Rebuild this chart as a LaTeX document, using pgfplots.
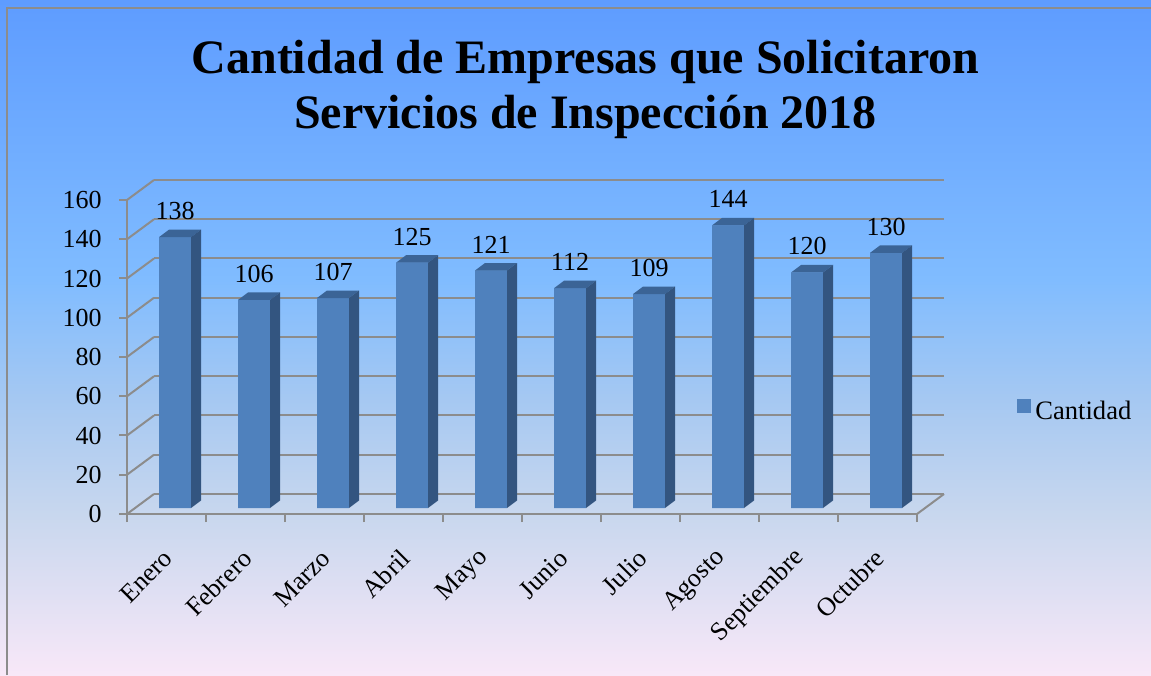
\documentclass[border=0pt]{standalone}
\usepackage{fontspec}
\setmainfont{Liberation Serif}
\usepackage{pgfplots}
\pgfplotsset{compat=1.18}
\definecolor{barfront}{HTML}{4F81BD}
\definecolor{bartop}{HTML}{3B6496}
\definecolor{barside}{HTML}{335580}
\definecolor{gridgray}{HTML}{8C8C8C}
\definecolor{bgA}{RGB}{248,232,248}
\definecolor{bgB}{RGB}{200,215,238}
\definecolor{bgC}{RGB}{165,200,242}
\definecolor{bgD}{RGB}{128,188,255}
\definecolor{bgE}{RGB}{94,156,255}
\pgfdeclareverticalshading{bgshade}{100bp}{color(0bp)=(bgA); color(25bp)=(bgA); color(36.9bp)=(bgB); color(45.5bp)=(bgC); color(54.3bp)=(bgD); color(75bp)=(bgE); color(100bp)=(bgE)}
\pgfdeclareplotmark{emptymark}{}
\pgfplotstableread{
x y
0 138
1 106
2 107
3 125
4 121
5 112
6 109
7 144
8 120
9 130
}\datatable
\newcommand{\cuboidfaces}{%
  \pgfmathsetlengthmacro\barlow{3pt-\pgfplotspointmeta*0.98125pt}%
  \pgfmathsetlengthmacro\barlows{6.75pt-\pgfplotspointmeta*0.98125pt}%
  \tikz[overlay]{\fill[bartop, draw=none] (-3.75pt,3pt) -- (12.25pt,3pt) -- (17.25pt,6.75pt) -- (1.25pt,6.75pt) -- cycle;\fill[barside, draw=none] (12.25pt,3pt) -- (17.25pt,6.75pt) -- (17.25pt,\barlows) -- (12.25pt,\barlow) -- cycle;}%
}
\begin{document}
\begin{tikzpicture}
\useasboundingbox (0,0) rectangle (575.5pt,337.5pt);
\shade[shading=bgshade] (0,0) rectangle (575.5pt,337.5pt);
\draw[gridgray, line width=1pt] (3.5pt,0) -- (3.5pt,333.5pt) -- (576pt,333.5pt);
\node[anchor=base, font=\bfseries\fontsize{24}{28}\selectfont, inner sep=0pt] at (292.75pt,300.5pt) {Cantidad de Empresas que Solicitaron};
\node[anchor=base, font=\bfseries\fontsize{24}{28}\selectfont, inner sep=0pt] at (292.75pt,273pt) {Servicios de Inspección 2018};
\begin{axis}[
  at={(63.5pt,80.5pt)}, anchor=south west,
  scale only axis, width=395pt, height=157pt,
  xmin=-0.5, xmax=9.5, ymin=0, ymax=160,
  clip=false,
  axis lines*=left,
  axis line style={gridgray, line width=1pt},
  /pgf/number format/assume math mode=true,
  tick label style={font=\fontsize{13}{15}\selectfont, text=black},
  ytick={0,20,...,160},
  xtick={0,...,9},
  xticklabels={Enero,Febrero,Marzo,Abril,Mayo,Junio,Julio,Agosto,Septiembre,Octubre},
  minor xtick={-0.5,0.5,...,9.5},
  minor ytick={0,20,...,160},
  major tick length=0pt,
  minor tick length=4pt,
  tick align=outside,
  tick style={gridgray, line width=1pt},
  yticklabel style={inner sep=0pt, anchor=east, xshift=-12.5pt},
  xticklabel style={inner sep=0pt, anchor=east, xshift=1pt, yshift=-20pt, rotate=45},
  ymajorgrids,
  major grid style={gridgray, line width=1pt, xshift=13.5pt, yshift=10pt},
  legend style={draw=none, fill=none, at={(1.1265,0.326)}, anchor=west, font=\fontsize{13.3}{15}\selectfont, inner sep=0pt},
]
\pgfplotsinvokeforeach{0,20,...,160}{\draw[gridgray, line width=1pt] (axis cs:-0.5,#1) -- ++(13.5pt,10pt);}
\draw[gridgray, line width=1pt] (axis cs:9.5,0) -- ++(13.5pt,10pt);
% front faces
\addplot[ybar, bar width=16pt, bar shift=4.25pt, fill=barfront, draw=none, yshift=3pt,
  legend image code/.code={\fill[barfront] (0pt,-3.5pt) rectangle (7pt,3.5pt);}]
  table[x=x, y=y] {\datatable};
\addlegendentry{Cantidad}
% top and side faces
\addplot[
  forget plot, only marks, mark=emptymark, draw=none,
  point meta=explicit symbolic,
  nodes near coords={\cuboidfaces},
  every node near coord/.style={anchor=center, inner sep=0pt, outer sep=0pt, draw=none, fill=none},
] table[x=x, y=y, meta=y] {\datatable};
% value labels
\addplot[
  forget plot, only marks, mark=emptymark,
  nodes near coords,
  every node near coord/.append style={anchor=south, inner sep=0pt, xshift=4.25pt, yshift=11.5pt, font=\fontsize{13}{15}\selectfont, text=black},
] table[x=x, y=y] {\datatable};
\end{axis}
\end{tikzpicture}
\end{document}
